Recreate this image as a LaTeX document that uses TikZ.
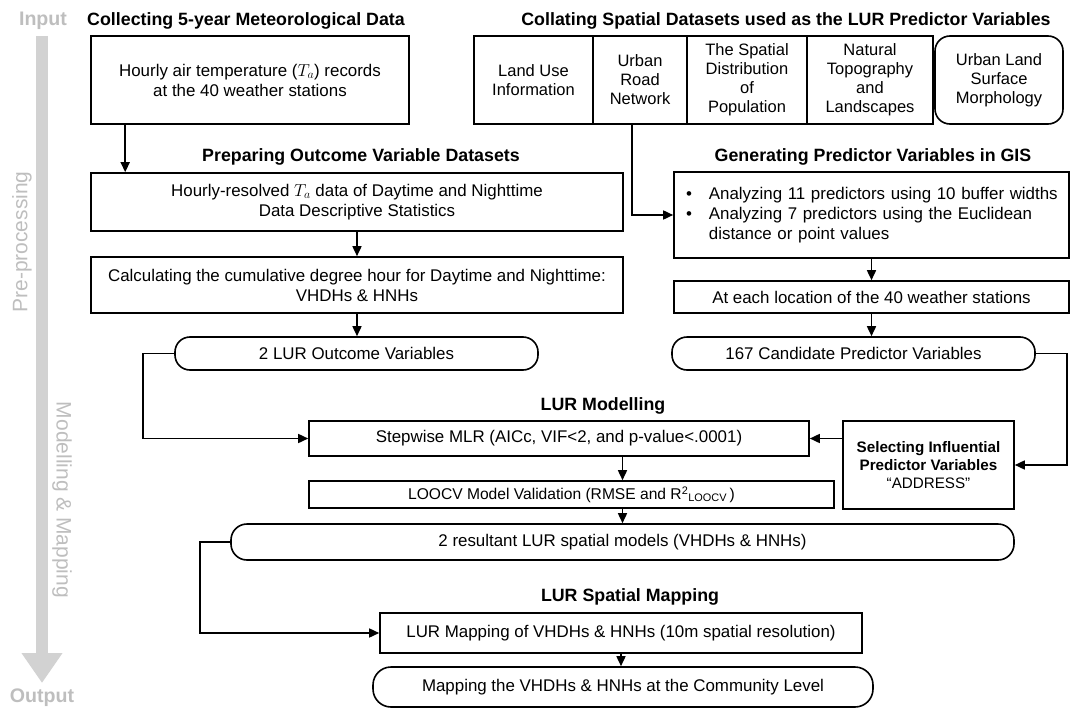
\documentclass[tikz,border=0pt]{standalone}
\usepackage{fontspec}
\setmainfont{Liberation Sans}
\usepackage{amsmath}
\usetikzlibrary{arrows.meta,positioning,calc}
\definecolor{fcgrey}{HTML}{BEBEBE}
\definecolor{fcbar}{HTML}{D2D2D2}

\begin{document}
\begin{tikzpicture}[x=1pt,y=-1pt,
  every node/.style={font=\fontsize{16.9}{20}\selectfont,align=center,inner sep=0pt},
  hd/.style={font=\fontsize{17.8}{21}\selectfont\bfseries},
  bx/.style={draw,line width=1.6pt},
  rbx/.style={bx,rounded corners=15pt},
  cell/.style={bx,minimum height=88pt,font=\fontsize{16.5}{19}\selectfont},
  sd/.style={font=\fontsize{19.6}{22}\selectfont\bfseries,color=fcgrey},
  sdv/.style={font=\fontsize{21}{24}\selectfont,color=fcgrey},
  arr/.style={line width=1.6pt,-{Triangle[length=10pt,width=9pt]}}]
\useasboundingbox (0,0) rectangle (1071,709);

\coordinate (bartop) at (42,36);
\coordinate (barbot) at (42,683);
\draw[fcbar,line width=12pt,-{Triangle[length=30pt,width=39pt]}] (bartop) -- (barbot);
\node[sd] (input) at (43,21) {Input};
\node[sd] (output) at (42,698) {Output};
\node[sdv,rotate=90] (pre) at (22,242) {Pre-processing};
\node[sdv,rotate=-90] (modmap) at (62,500) {Modelling \& Mapping};

\node[hd] (h-met) at (246,21) {Collecting 5-year Meteorological Data};
\node[hd] (h-spat) at (786,21) {Collating Spatial Datasets used as the LUR Predictor Variables};
\node[hd] (h-out) at (361,157) {Preparing Outcome Variable Datasets};
\node[hd] (h-gis) at (873,157) {Generating Predictor Variables in GIS};
\node[hd] (h-mod) at (603,406) {LUR Modelling};
\node[hd] (h-map) at (630,597) {LUR Spatial Mapping};

\node[bx,minimum width=318pt,minimum height=88pt] (met) at (250,80)
  {Hourly air temperature ($T_a$) records\\at the 40 weather stations};
\node[cell,minimum width=119pt] (landuse) at (533.5,80) {Land Use\\Information};
\node[cell,minimum width=94pt] (road) at (640,80) {Urban\\Road\\Network};
\node[cell,minimum width=120pt] (popn) at (747,80) {The Spatial\\Distribution\\of\\Population};
\node[cell,minimum width=126pt] (topo) at (870,80) {Natural\\Topography\\and\\Landscapes};
\node[cell,rounded corners=15pt,minimum width=128pt] (morph) at (999,80) {Urban Land\\Surface\\Morphology};

\node[bx,minimum width=532pt,minimum height=58pt] (hourly) at (357,202)
  {Hourly-resolved $T_a$ data of Daytime and Nighttime\\Data Descriptive Statistics};
\node[bx,minimum width=532pt,minimum height=56pt] (cdh) at (357,285)
  {Calculating the cumulative degree hour for Daytime and Nighttime:\\VHDHs \& HNHs};
\node[rbx,minimum width=363pt,minimum height=33pt] (outvar) at (356.5,353.5) {2 LUR Outcome Variables};

\node[bx,minimum width=395pt,minimum height=86pt,text width=371pt,align=left] (gis) at (871.5,215)
  {\begin{tabular}{@{}l@{\hspace{17pt}}l@{}}
   \textbullet & Analyzing 11 predictors using 10 buffer widths\\
   \textbullet & Analyzing 7 predictors using the Euclidean\\
               & distance or point values
   \end{tabular}};
\node[bx,minimum width=395pt,minimum height=32pt] (atloc) at (871.5,297) {At each location of the 40 weather stations};
\node[rbx,minimum width=363pt,minimum height=33pt] (cand) at (853.5,353.5) {167 Candidate Predictor Variables};

\node[bx,minimum width=500pt,minimum height=35pt] (mlr) at (559,438.5) {Stepwise MLR (AICc, VIF<2, and p-value<.0001)};
\node[bx,minimum width=171pt,minimum height=88pt,font=\fontsize{15.2}{18}\selectfont] (sel) at (928.5,465)
  {\textbf{Selecting Influential}\\\textbf{Predictor Variables}\\“ADDRESS”};
\node[bx,minimum width=525pt,minimum height=27pt,font=\fontsize{15.6}{18}\selectfont] (loocv) at (571.5,494.5)
  {LOOCV Model Validation (RMSE and R\textsuperscript{2}\textsubscript{LOOCV}\,)};
\node[rbx,rounded corners=16pt,minimum width=783pt,minimum height=36pt] (models) at (622.5,542)
  {2 resultant LUR spatial models (VHDHs \& HNHs)};

\node[bx,minimum width=482pt,minimum height=40pt] (lurmap) at (621,633) {LUR Mapping of VHDHs \& HNHs (10m spatial resolution)};
\node[rbx,rounded corners=18pt,minimum width=500pt,minimum height=40pt] (commap) at (623,687) {Mapping the VHDHs \& HNHs at the Community Level};

\draw[arr] ([xshift=35pt]met.south west) -- ([xshift=35pt]hourly.north west);
\draw[arr] (hourly.south) -- (cdh.north);
\draw[arr] (cdh.south) -- (cdh.south |- outvar.north);
\draw[arr] ([xshift=-8pt]road.south) |- (gis.west);
\draw[arr] (gis.south) -- (atloc.north);
\draw[arr] (atloc.south) -- (atloc.south |- cand.north);
\draw[arr] (cand.east) -- ++(31,0) |- (sel.east);
\draw[arr] (sel.west |- mlr.east) -- (mlr.east);
\draw[arr] (outvar.west) -- ++(-31,0) |- (mlr.west);
\draw[arr] (models.north |- mlr.south) -- (models.north |- loocv.north);
\draw[arr] (models.north |- loocv.south) -- (models.north);
\draw[arr] (models.west) -- ++(-30,0) |- (lurmap.west);
\draw[arr] (lurmap.south) -- (lurmap.south |- commap.north);
\end{tikzpicture}
\end{document}
